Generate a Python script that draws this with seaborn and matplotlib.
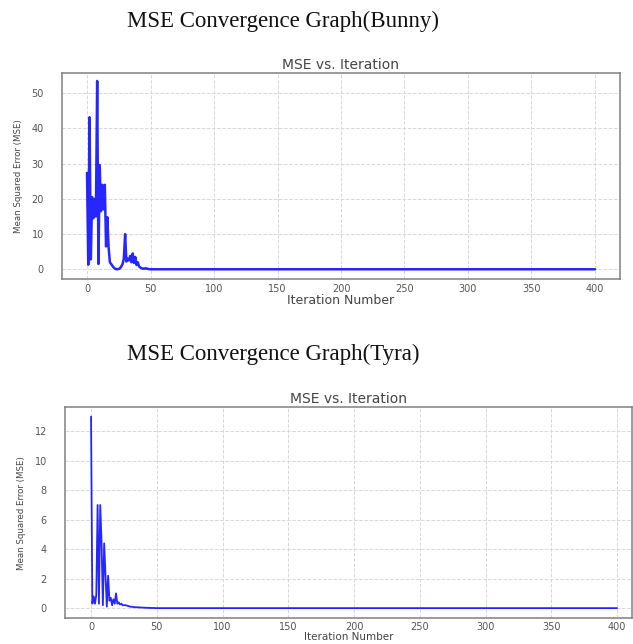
import numpy as np
import pandas as pd
import matplotlib
matplotlib.use("Agg")
import matplotlib.pyplot as plt
import seaborn as sns

# ---------------- data ----------------
n_iterations = 401  # iterations 0..400

bunny_head = [27.4, 1.3, 43.2, 2.8, 20.5, 14.5, 20.0, 15.0, 53.5, 1.5,
              29.6, 16.5, 24.0, 17.0, 24.0, 6.5, 14.8, 6.2, 2.0, 1.5,
              1.0, 0.5, 0.2, 0.05, 0.0, 0.1, 0.3, 0.8, 1.5, 3.0,
              10.0, 2.2, 3.0, 2.5, 3.8, 2.0, 4.5, 1.8, 3.5, 1.2,
              2.0, 0.8, 0.5, 0.3, 0.2, 0.15, 0.3, 0.2, 0.1, 0.05]
bunny_tail_value = 0.0

tyra_head = [13.0, 0.3, 0.8, 0.3, 0.9, 7.0, 0.3, 7.0, 4.5, 0.2,
             4.4, 2.2, 0.1, 2.2, 0.5, 0.7, 0.2, 0.6, 0.3, 1.0,
             0.3, 0.4, 0.25, 0.3, 0.2, 0.2, 0.2, 0.18, 0.15, 0.12,
             0.10, 0.09, 0.08, 0.07, 0.06, 0.06, 0.05, 0.05, 0.04, 0.04,
             0.03, 0.03, 0.02, 0.02, 0.02, 0.01, 0.01, 0.01, 0.01, 0.0]
tyra_tail_value = 0.0

x_ticks = [0, 50, 100, 150, 200, 250, 300, 350, 400]
bunny_y_ticks = [0, 10, 20, 30, 40, 50]
tyra_y_ticks = [0, 2, 4, 6, 8, 10, 12]

fig_titles = ["MSE Convergence Graph(Bunny)", "MSE Convergence Graph(Tyra)"]
ax_title = "MSE vs. Iteration"
x_label = "Iteration Number"
y_label = "Mean Squared Error (MSE)"

iters = np.arange(n_iterations)
bunny = np.array(bunny_head + [bunny_tail_value] * (n_iterations - len(bunny_head)))
tyra = np.array(tyra_head + [tyra_tail_value] * (n_iterations - len(tyra_head)))
df_bunny = pd.DataFrame({"Iteration": iters, "MSE": bunny})
df_tyra = pd.DataFrame({"Iteration": iters, "MSE": tyra})

# ---------------- figure ----------------
sns.set_style("white")
plt.rcParams["font.family"] = ["DejaVu Sans"]

W, H = 633, 644
fig = plt.figure(figsize=(W / 100, H / 100), dpi=100)

def px_axes(left, top, right, bottom):
    return fig.add_axes([left / W, 1 - bottom / H, (right - left) / W, (bottom - top) / H])

ax1 = px_axes(62, 72.7, 620, 279)
ax2 = px_axes(65, 407.3, 632, 618)

configs = [
    (ax1, df_bunny, bunny_y_ticks, (-19.7, 419.7), (-2.76, 55.85), 1.8, 9, 1),
    (ax2, df_tyra, tyra_y_ticks, (-19.8, 411.4), (-0.67, 13.63), 1.3, 7.5, 0.5),
]

for ax, df, yt, xl, yl, lw, xfs, xpad in configs:
    sns.lineplot(data=df, x="Iteration", y="MSE", ax=ax, color="#0000ff",
                 linewidth=lw, alpha=0.85, estimator=None)
    ax.set_xlim(*xl)
    ax.set_ylim(*yl)
    ax.set_xticks(x_ticks)
    ax.set_yticks(yt)
    ax.grid(True, linestyle="--", color="#d8d8d8", linewidth=0.7)
    ax.set_axisbelow(True)
    for s in ax.spines.values():
        s.set_color("#808080")
        s.set_linewidth(1.1)
    ax.tick_params(axis="x", length=2.5, width=0.8, color="#888888", pad=xpad,
                   labelsize=7, labelcolor="#555555")
    ax.tick_params(axis="y", length=4, width=0.8, color="#888888", pad=9,
                   labelsize=7, labelcolor="#555555")
    ax.set_title(ax_title, fontsize=10, color="#444444", pad=3)
    ax.set_xlabel(x_label, fontsize=xfs, color="#444444", labelpad=0)
    ax.set_ylabel(y_label, fontsize=6.2, color="#444444", labelpad=6)

fig.text(127 / W, 1 - 21 / H, fig_titles[0], fontsize=16.5, ha="left", va="center",
         family=["Liberation Serif", "DejaVu Serif"], color="#111111")
fig.text(127 / W, 1 - 354 / H, fig_titles[1], fontsize=16.5, ha="left", va="center",
         family=["Liberation Serif", "DejaVu Serif"], color="#111111")

fig.savefig("out.png", dpi=100)
